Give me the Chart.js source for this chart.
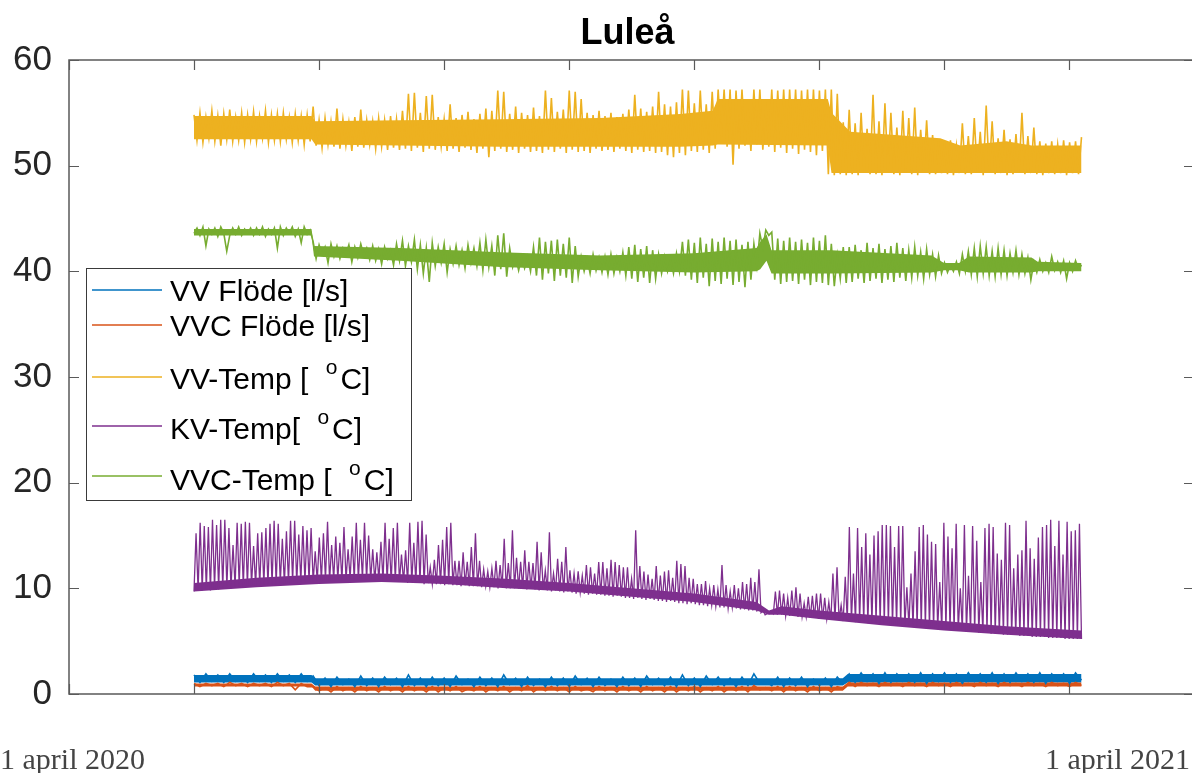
<!DOCTYPE html>
<html><head><meta charset="utf-8">
<script src="https://cdn.jsdelivr.net/npm/chart.js@4.4.1/dist/chart.umd.min.js"></script>
<style>html,body{margin:0;padding:0;background:#fff;overflow:hidden;}#wrap{width:1200px;height:773px;}</style>
</head><body><div id="wrap"><canvas id="c" width="1200" height="773"></canvas></div>
<script>
const TITLE = 'Luleå';
const DATE_START_LABEL = '1 april 2020';
const DATE_END_LABEL = '1 april 2021';
const SERIES_NAMES = ['VV Flöde [l/s]', 'VVC Flöde [l/s]', 'VV-Temp [ ^oC]', 'KV-Temp[ ^oC]', 'VVC-Temp [ ^oC]'];
const SERIES_COLORS = ['#0072BD', '#D95319', '#EDB120', '#7E2F8E', '#77AC30'];
const SERIES_WIDTHS = [1.6, 1.6, 1.6, 1.3, 1.6];
const Y_TICKS = [0, 10, 20, 30, 40, 50, 60];
const X_TICKS = [0, 1, 2, 3, 4, 5, 6, 7, 8, 9];
const T_START = 1.0, T_END = 8.1;

// ---- raw (zig-zag) series ----
const vvFlode = [
1.8,1.1,1.9,1.2,1.8,1.1,1.9,1.2,1.7,1.1,1.9,1.2,1.8,1.1,1.9,1.2,1.8,1.1,1.9,1.2,
1.7,0.8,1.5,0.7,1.6,0.9,1.4,0.7,1.7,0.8,1.5,0.7,1.6,0.9,1.5,0.7,1.8,0.8,1.5,0.7,
1.6,0.8,1.5,0.7,1.7,0.9,1.4,0.7,1.6,0.8,1.5,0.7,1.8,0.9,1.5,0.7,1.6,0.8,1.4,0.7,
1.6,0.8,1.5,0.7,1.7,0.9,1.5,0.7,1.6,0.8,1.4,0.7,1.6,0.8,1.5,0.7,1.7,0.9,1.5,0.8,
1.6,0.7,1.8,0.8,1.5,0.7,1.7,0.9,1.6,0.8,1.5,0.7,1.6,0.8,1.9,1.0,1.2,0.8,1.6,0.7,
1.5,0.8,1.6,0.7,1.4,0.8,1.5,0.7,1.6,1.0,1.9,1.1,2.0,1.2,1.9,1.0,2.0,1.1,1.9,1.2,
1.9,1.1,2.0,1.0,1.9,1.2,2.0,1.1,1.9,1.0,2.0,1.2,1.9,1.1,2.0,1.0,1.9,1.1,2.0,1.2,
1.9,1.1,2.0,1.0,1.9,1.2,1.9,1.0,2.0,1.3];

const vvcFlode = [
1.0,0.7,1.0,0.8,1.0,0.7,1.1,0.8,1.0,0.7,1.0,0.8,1.0,0.7,1.1,0.8,1.0,0.4,1.0,0.7,
0.7,0.3,0.6,0.2,0.7,0.3,0.6,0.2,0.7,0.3,0.6,0.2,0.7,0.3,0.6,0.2,0.7,0.3,0.6,0.2,
0.7,0.2,0.6,0.3,0.7,0.2,0.5,0.3,0.7,0.2,0.6,0.3,0.7,0.2,0.6,0.3,0.8,0.2,0.6,0.3,
0.7,0.3,0.6,0.2,0.7,0.3,0.5,0.2,0.7,0.3,0.6,0.2,0.7,0.3,0.6,0.2,0.7,0.3,0.6,0.2,
0.7,0.2,0.6,0.3,0.7,0.2,0.6,0.3,0.7,0.2,0.6,0.3,0.7,0.2,0.8,0.4,0.6,0.3,0.7,0.2,
0.7,0.3,0.6,0.2,0.7,0.3,0.6,0.2,0.7,0.5,1.1,0.7,1.1,0.8,1.0,0.7,1.1,0.8,1.0,0.7,
1.1,0.8,1.0,0.7,1.1,0.8,1.0,0.7,1.1,0.8,1.0,0.7,1.1,0.8,1.0,0.7,1.1,0.8,1.0,0.7,
1.1,0.8,1.0,0.7,1.1,0.8,1.0,0.7,1.1,0.8];

const vvTemp = [
54.8,52.4,55.0,52.2,54.6,52.6,55.2,52.3,54.7,51.9,54.9,52.5,55.3,52.3,54.6,52.4,55.0,52.2,54.8,52.5,
55.1,52.3,54.7,52.6,55.2,52.2,54.8,52.4,54.9,52.3,55.0,52.5,54.6,52.2,54.9,52.4,54.7,52.0,54.8,52.3,
55.6,51.9,54.3,51.7,54.5,52.0,54.2,51.8,55.4,51.6,54.4,51.9,54.1,51.4,54.6,51.8,55.3,51.7,54.3,52.0,
54.2,51.6,54.5,51.8,54.3,51.5,54.7,51.7,54.4,51.5,55.2,51.6,56.8,51.4,56.9,51.7,55.0,51.3,56.6,51.6,
56.7,51.5,54.6,51.8,54.4,51.4,55.8,51.6,54.5,51.3,54.8,51.7,55.1,51.5,54.4,51.2,54.9,51.6,55.4,50.8,
55.2,51.4,57.1,51.6,57.0,51.3,54.9,51.5,55.6,51.2,55.0,51.6,54.8,51.3,55.5,51.4,54.7,51.2,57.1,51.5,
56.4,51.3,55.1,51.6,55.3,51.2,57.1,51.5,57.0,51.3,56.3,51.4,55.0,51.2,54.8,51.6,55.2,51.4,54.7,51.5,
55.0,51.3,54.6,51.6,54.9,51.4,55.3,51.2,56.7,51.5,55.4,51.3,55.1,51.4,55.6,51.2,57.0,51.3,55.8,51.0,
55.6,50.8,56.0,51.2,57.2,51.0,57.1,51.4,55.9,51.3,57.1,51.5,55.8,51.2,57.0,51.6,57.2,52.4,57.2,51.8,
57.2,50.1,57.1,51.6,57.2,51.9,55.5,51.4,57.2,52.0,57.2,51.5,56.0,51.8,57.2,51.3,57.1,51.7,57.2,51.2,
57.2,51.6,57.2,51.1,57.1,51.5,57.2,51.3,57.2,51.0,57.1,51.4,57.2,49.2,57.2,49.1,56.8,49.2,54.1,49.1,
55.3,49.2,54.0,49.1,55.0,49.3,53.5,49.2,56.7,49.2,54.2,49.1,55.9,49.3,55.0,49.2,53.6,49.1,55.2,49.3,
54.5,49.2,55.5,49.1,53.4,49.3,54.3,49.2,52.9,49.2,52.3,49.3,52.1,49.2,52.4,49.1,51.9,49.3,54.0,49.2,
52.8,49.2,54.5,49.3,53.2,49.1,55.7,49.3,54.2,49.2,52.6,49.3,53.4,49.1,52.5,49.2,53.0,49.3,55.0,49.2,
52.8,49.3,53.6,49.2,52.3,49.1,52.1,49.3,52.3,49.2,52.0,49.3,52.4,49.1,52.2,49.3,52.3,49.2,52.7];

const kvTempBase = [
9.7,9.8,9.8,9.9,9.8,10.0,9.9,10.0,10.1,10.0,
10.1,10.2,10.1,10.2,10.3,10.2,10.3,10.4,10.3,10.4,
10.4,10.5,10.4,10.5,10.6,10.5,10.6,10.6,10.7,10.6,
10.7,10.7,10.8,10.7,10.8,10.8,10.7,10.8,10.9,10.8,
10.8,10.9,10.8,10.8,10.7,10.8,10.7,10.7,10.6,10.7,
10.6,10.6,10.5,10.6,10.5,10.5,10.4,10.5,10.4,10.4,
10.4,10.3,10.4,10.3,10.3,10.2,10.3,10.2,10.2,10.2,
10.1,10.2,10.1,10.1,10.0,10.1,10.0,10.0,10.0,
10.0,10.0,9.9,10.0,9.9,9.8,9.9,9.8,9.7,9.8,
9.7,9.6,9.7,9.6,9.5,9.6,9.5,9.4,9.5,9.4,
9.4,9.3,9.3,9.2,9.3,9.2,9.1,9.1,9.0,9.1,
9.0,8.9,9.0,8.9,8.8,8.8,8.7,8.8,8.7,8.6,
8.6,8.5,8.6,8.5,8.4,8.4,8.3,8.4,8.3,8.2,
8.2,8.1,8.2,8.1,8.0,8.0,7.9,7.9,7.8,
7.7,7.5,7.6,
7.6,7.5,7.5,7.4,7.4,7.4,7.3,7.3,7.3,7.2,7.2,7.1,7.1,7.1,7.0,7.0,
7.0,6.9,6.9,6.9,6.8,6.8,6.8,6.7,6.7,6.7,
6.6,6.6,6.6,6.5,6.5,6.5,6.4,6.4,6.4,6.3,
6.3,6.3,6.2,6.2,6.2,6.1,6.1,6.1,6.0,6.0,
6.0,5.9,5.9,5.9,5.8,5.8,5.8,5.7,5.7,5.7,
5.6,5.6,5.6,5.6,5.5,5.5,5.5,5.4,5.4,5.4,
5.4,5.3,5.3,5.3,5.3,5.2,5.2,5.2,5.2];

const kvTempPeak = [
15.2,16.2,15.9,15.8,16.5,16.0,16.5,16.5,15.7,14.1,
16.2,16.1,16.3,16.2,14.0,15.2,15.3,15.7,16.1,16.4,
16.1,14.7,15.4,16.4,16.4,15.1,15.9,15.5,15.7,13.5,
14.8,15.2,16.3,14.1,14.9,14.3,15.8,13.7,14.9,16.2,
14.6,16.2,15.0,13.7,13.4,14.4,16.2,14.7,15.7,16.2,
13.2,13.6,16.2,14.3,16.3,16.4,15.1,12.0,12.7,14.1,
14.6,15.8,16.2,12.6,12.6,13.4,12.5,13.9,15.2,12.6,
11.8,11.6,11.9,12.6,12.2,14.7,12.4,15.5,12.9,
12.5,13.6,12.5,12.4,14.4,13.4,11.7,15.3,11.4,12.8,
12.5,13.9,11.7,11.4,11.6,11.2,12.2,12.0,11.4,12.5,
12.5,11.9,12.7,12.5,12.2,12.0,12.0,10.9,15.5,12.1,
11.6,11.3,10.9,12.1,11.2,11.6,11.7,11.0,12.6,12.3,
12.1,11.0,10.9,10.4,10.4,10.7,10.0,10.3,9.9,12.2,
10.3,9.7,10.3,10.0,10.6,10.4,11.0,10.6,11.8,
7.9,7.6,7.8,
9.7,9.8,9.5,9.1,9.8,10.1,9.5,8.6,9.2,9.3,9.5,9.5,9.1,8.7,11.4,12.0,
8.4,11.1,15.8,11.4,15.7,13.9,15.2,13.2,15.0,15.4,
16.0,16.0,15.9,13.9,15.9,15.9,10.1,11.4,13.5,15.8,
16.0,15.1,14.4,14.2,10.6,16.2,14.9,13.8,16.1,10.0,
16.0,11.2,15.9,14.5,10.6,15.7,16.1,15.8,13.3,12.7,
16.2,16.0,11.9,13.2,13.6,16.4,13.8,12.8,14.8,15.8,
16.0,16.5,14.0,16.4,13.2,16.3,15.4,15.5,16.1];

const vvcTemp = [
43.6,44.1,43.4,44.2,42.4,44.0,43.5,44.1,43.3,44.2,43.6,41.9,43.4,44.1,43.5,44.2,43.4,44.0,43.6,44.1,
43.4,44.1,43.5,44.2,43.3,44.0,43.5,44.1,42.2,44.2,43.4,44.1,43.6,44.2,43.3,44.0,42.7,44.2,43.5,43.9,
42.8,41.2,42.5,41.6,42.3,40.8,42.6,41.4,42.4,41.2,42.2,41.6,42.5,40.9,42.3,41.3,42.6,41.5,42.2,41.1,
42.4,41.0,42.1,40.7,42.3,41.2,42.0,40.6,42.6,41.0,42.9,40.5,42.4,40.9,43.0,40.2,42.5,39.8,42.2,39.0,
42.7,40.5,42.3,40.8,42.6,39.9,42.1,40.7,42.4,40.6,42.0,40.3,42.5,40.8,42.2,40.5,42.7,40.1,43.0,40.4,
42.4,39.6,43.4,40.2,43.6,39.5,42.2,40.4,41.4,40.1,41.3,40.3,41.4,40.0,42.3,39.6,43.2,39.2,42.8,39.8,
42.9,39.1,43.0,39.6,42.6,39.4,43.2,38.9,42.4,39.5,41.4,40.0,41.2,39.8,41.6,40.1,41.3,39.9,41.4,39.7,
41.6,39.8,41.3,40.0,41.8,39.6,42.3,39.3,42.5,39.0,42.1,39.4,42.4,38.9,42.0,39.3,41.6,39.8,41.4,40.0,
41.2,39.8,41.7,40.0,42.8,39.6,43.0,39.2,42.7,38.9,43.2,39.4,42.6,38.6,43.1,39.1,42.8,38.8,43.2,39.3,
42.9,38.7,43.0,39.0,42.5,38.5,42.8,39.2,42.6,40.5,43.6,42.2,43.9,43.4,43.7,39.2,43.1,38.8,42.9,39.0,
43.2,39.1,42.8,38.8,43.0,39.2,42.7,38.7,43.2,39.0,42.9,38.9,43.4,38.7,42.6,38.6,41.5,39.3,42.3,38.9,
42.3,39.0,42.5,39.3,42.0,38.9,42.7,39.1,42.2,39.3,42.6,38.9,42.1,39.2,42.4,39.0,42.7,39.4,42.2,39.1,
42.0,39.4,42.3,39.6,41.8,39.3,42.1,39.7,41.6,39.5,41.5,39.8,40.8,39.9,40.6,40.0,40.9,39.8,41.6,40.0,
41.9,39.7,42.2,39.5,42.4,39.8,42.3,39.6,41.9,39.5,42.2,39.7,42.0,39.6,41.7,39.9,42.0,39.7,41.6,39.8,
41.3,39.2,40.9,39.9,41.1,40.0,40.8,39.9,41.4,40.1,40.9,39.9,41.0,39.3,40.8,40.0,41.0,40.2,40.6];

// ---- dense core band of each series (time, lower edge, upper edge) ----
const vvFlodeBandT  = [1.0, 1.94, 1.97, 6.19, 6.23, 8.1];
const vvFlodeBandLo = [1.1, 1.1, 0.8, 0.8, 1.1, 1.1];
const vvFlodeBandHi = [1.8, 1.8, 1.5, 1.5, 1.9, 1.9];
const vvcFlodeBandT  = [1.0, 1.94, 1.97, 6.19, 6.23, 8.1];
const vvcFlodeBandLo = [0.7, 0.7, 0.3, 0.3, 0.7, 0.7];
const vvcFlodeBandHi = [1.0, 1.0, 0.7, 0.7, 1.1, 1.1];
const vvTempBandT  = [1.0, 1.94, 1.97, 2.65, 3.45, 4.25, 4.89, 5.15, 5.19, 6.07, 6.1, 6.25, 6.97, 7.13, 7.5, 7.7, 8.1];
const vvTempBandLo = [52.5, 52.5, 52.0, 51.9, 51.8, 51.8, 51.8, 51.9, 52.0, 51.9, 49.3, 49.3, 49.3, 49.3, 49.3, 49.3, 49.3];
const vvTempBandHi = [54.7, 54.7, 54.2, 54.3, 54.4, 54.5, 54.9, 55.2, 56.3, 56.3, 55.0, 53.2, 52.6, 51.9, 52.3, 51.9, 51.9];
const kvTempBandT  = [1.0, 1.5, 2.0, 2.5, 3.0, 3.5, 4.0, 4.5, 5.0, 5.5, 5.55, 5.6, 5.7, 6.0, 6.5, 7.0, 7.5, 8.1];
const kvTempBandLo = [9.7, 10.1, 10.4, 10.6, 10.4, 10.0, 9.7, 9.2, 8.7, 7.9, 7.7, 7.5, 7.5, 7.1, 6.5, 6.0, 5.6, 5.2];
const kvTempBandHi = [10.5, 11.0, 11.3, 11.4, 11.2, 10.9, 10.5, 10.0, 9.5, 8.7, 8.3, 7.9, 8.3, 7.9, 7.4, 6.9, 6.4, 6.0];
const vvcTempBandT  = [1.0, 1.94, 1.96, 2.65, 3.45, 4.25, 5.0, 5.5, 5.53, 5.58, 5.62, 6.1, 6.9, 7.0, 7.12, 7.2, 7.7, 7.75, 8.1];
const vvcTempBandLo = [43.4, 43.4, 41.4, 41.0, 40.4, 40.1, 39.9, 40.0, 40.2, 41.0, 39.8, 39.8, 39.9, 40.1, 40.1, 39.9, 39.9, 40.0, 40.0];
const vvcTempBandHi = [44.0, 44.0, 42.4, 42.2, 41.8, 41.5, 41.7, 42.2, 42.8, 43.5, 42.0, 42.0, 41.5, 40.8, 40.8, 41.4, 41.3, 40.9, 40.8];

function toPoints(arr) {
  const n = arr.length;
  return arr.map((v, i) => ({ x: T_START + i * (T_END - T_START) / (n - 1), y: v }));
}
function zipPoints(ts, vs) { return ts.map((t, i) => ({ x: t, y: vs[i] })); }
function spikes(base, peak) {
  const out = [];
  for (let k = 0; k < base.length; k++) { out.push(base[k], peak[k]); }
  out.push(base[base.length - 1]);
  return out;
}
const seriesValues = [vvFlode, vvcFlode, vvTemp, spikes(kvTempBase, kvTempPeak), vvcTemp];
const bands = [
  [vvFlodeBandT, vvFlodeBandLo, vvFlodeBandHi],
  [vvcFlodeBandT, vvcFlodeBandLo, vvcFlodeBandHi],
  [vvTempBandT, vvTempBandLo, vvTempBandHi],
  [kvTempBandT, kvTempBandLo, kvTempBandHi],
  [vvcTempBandT, vvcTempBandLo, vvcTempBandHi]
];

const datasets = [];
bands.forEach((b, i) => {
  datasets.push({ label: 'band-lo-' + i, data: zipPoints(b[0], b[1]), borderWidth: 0, pointRadius: 0, fill: false, order: 20 - i });
  datasets.push({ label: 'band-hi-' + i, data: zipPoints(b[0], b[2]), borderWidth: 0, pointRadius: 0,
    fill: '-1', backgroundColor: SERIES_COLORS[i], order: 20 - i });
});
seriesValues.forEach((vals, i) => {
  datasets.push({
    label: SERIES_NAMES[i].replace('^o', '°'),
    data: toPoints(vals),
    borderColor: SERIES_COLORS[i],
    backgroundColor: SERIES_COLORS[i],
    borderWidth: SERIES_WIDTHS[i],
    pointRadius: 0,
    tension: 0,
    fill: false,
    order: 4 - i
  });
});

const AXIS_COLOR = '#5a5a5a';
const frame = {
  id: 'frame',
  afterDatasetsDraw(chart) {
    const ctx = chart.ctx, a = chart.chartArea;
    const xs = chart.scales.x, ys = chart.scales.y;
    ctx.save();
    ctx.strokeStyle = AXIS_COLOR;
    ctx.lineWidth = 1.5;
    ctx.beginPath();
    ctx.rect(a.left, a.top, a.right - a.left, a.bottom - a.top);
    ctx.stroke();
    ctx.lineWidth = 1.2;
    const TL = 10;
    ctx.beginPath();
    X_TICKS.forEach(t => {
      const px = Math.round(xs.getPixelForValue(t)) + 0.5;
      ctx.moveTo(px, a.bottom); ctx.lineTo(px, a.bottom - TL);
      ctx.moveTo(px, a.top); ctx.lineTo(px, a.top + TL);
    });
    Y_TICKS.forEach(t => {
      const py = Math.round(ys.getPixelForValue(t)) + 0.5;
      ctx.moveTo(a.left, py); ctx.lineTo(a.left + TL, py);
      ctx.moveTo(a.right, py); ctx.lineTo(a.right - TL, py);
    });
    ctx.stroke();

    ctx.fillStyle = '#000';
    ctx.font = 'bold 36px "Liberation Sans", Arial, sans-serif';
    ctx.textAlign = 'center';
    ctx.textBaseline = 'alphabetic';
    ctx.fillText(TITLE, (a.left + a.right) / 2 - 4, 44);

    ctx.fillStyle = '#444';
    ctx.font = '30px "Liberation Serif", "DejaVu Serif", serif';
    ctx.textAlign = 'left';
    ctx.fillText(DATE_START_LABEL, 0, 769);
    ctx.textAlign = 'right';
    ctx.fillText(DATE_END_LABEL, 1190, 769);

    const L = { x: 86, y: 268, w: 325, h: 232 };
    ctx.fillStyle = '#fff';
    ctx.fillRect(L.x, L.y, L.w, L.h);
    ctx.strokeStyle = '#3a3a3a';
    ctx.lineWidth = 1;
    ctx.strokeRect(L.x + 0.5, L.y + 0.5, L.w, L.h);
    const lineY = [290, 325, 377, 426, 476];
    const baseY = [301, 336, 389, 439, 490];
    const font = '30px "Liberation Sans", Arial, sans-serif';
    const supFont = '21px "Liberation Sans", Arial, sans-serif';
    ctx.textAlign = 'left';
    SERIES_NAMES.forEach((name, i) => {
      ctx.strokeStyle = SERIES_COLORS[i];
      ctx.lineWidth = 1.6;
      ctx.beginPath();
      ctx.moveTo(92, lineY[i]); ctx.lineTo(162, lineY[i]);
      ctx.stroke();
      ctx.fillStyle = '#000';
      const parts = name.split('^');
      let cx = 170;
      ctx.font = font;
      ctx.fillText(parts[0], cx, baseY[i]);
      cx += ctx.measureText(parts[0]).width;
      if (parts.length > 1) {
        const sup = parts[1].charAt(0), rest = parts[1].slice(1);
        cx += 9;
        ctx.font = supFont;
        ctx.fillText(sup, cx, baseY[i] - 15);
        cx += ctx.measureText(sup).width + 3;
        ctx.font = font;
        ctx.fillText(rest, cx, baseY[i]);
      }
    });
    ctx.restore();
  }
};

new Chart(document.getElementById('c'), {
  type: 'line',
  data: { datasets },
  options: {
    responsive: false,
    animation: false,
    devicePixelRatio: 1,
    layout: { padding: { top: 60, right: 6, left: 0, bottom: 0 } },
    plugins: { legend: { display: false }, title: { display: false }, tooltip: { enabled: false } },
    scales: {
      x: {
        type: 'linear', min: 0, max: 9,
        grid: { display: false }, border: { display: false },
        ticks: { display: false },
        afterFit(s) { s.height = 79; }
      },
      y: {
        type: 'linear', min: 0, max: 60,
        grid: { display: false }, border: { display: false },
        afterBuildTicks(s) { s.ticks = Y_TICKS.map(v => ({ value: v })); },
        ticks: { padding: 9, color: '#262626', font: { family: '"Liberation Sans", Arial, sans-serif', size: 35 } },
        afterFit(s) { s.width = 69; }
      }
    }
  },
  plugins: [frame]
});
</script>
</body></html>
